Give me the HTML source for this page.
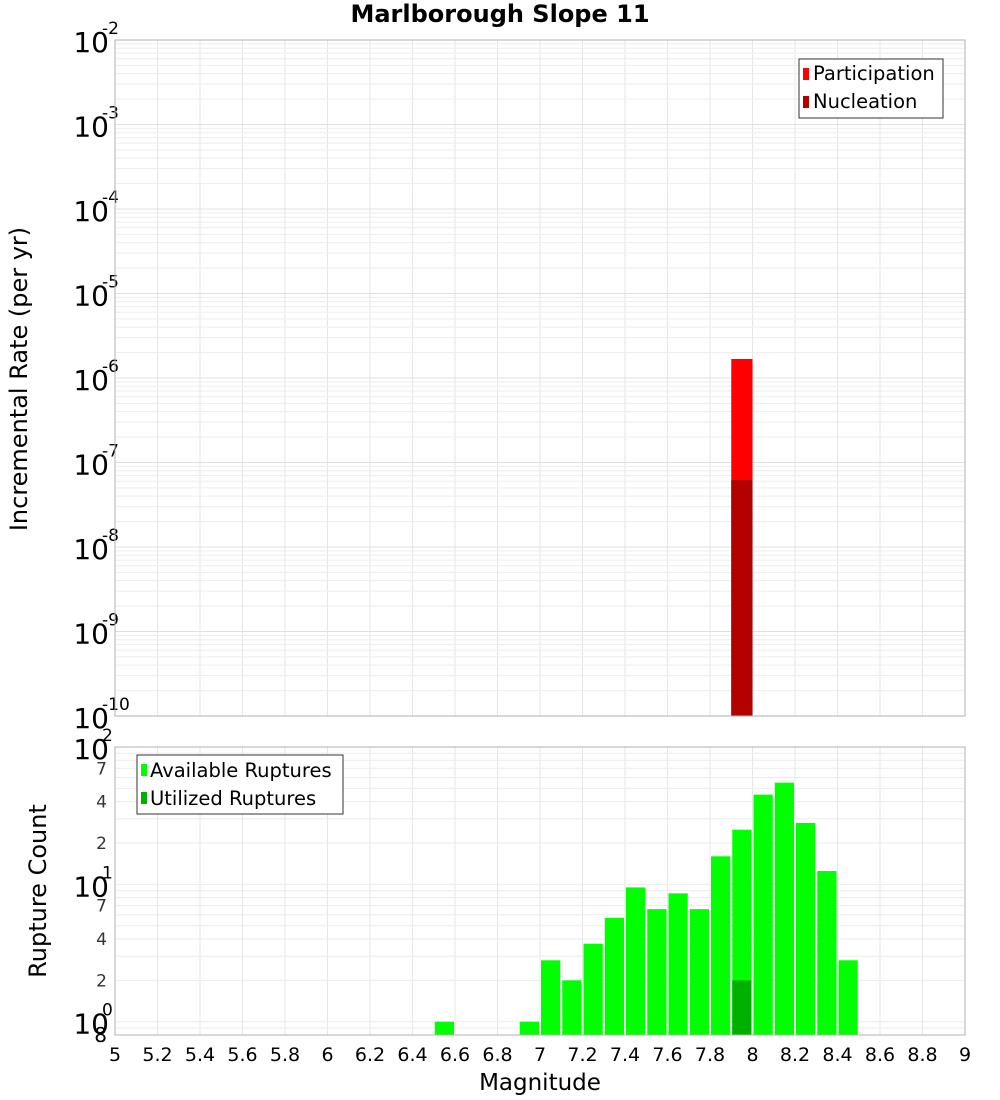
<!DOCTYPE html>
<html><head><meta charset="utf-8"><style>
body{margin:0;background:#fff}
svg{display:block;font-family:"DejaVu Sans","Liberation Sans",sans-serif}
</style></head><body>
<svg id="c" width="1000" height="1100" xmlns="http://www.w3.org/2000/svg">
<text x="500" y="22" text-anchor="middle" font-size="24" font-weight="bold">Marlborough Slope 11</text>
<g id="g"></g>
<text transform="translate(27,379) rotate(-90)" text-anchor="middle" font-size="24">Incremental Rate (per yr)</text>
<text transform="translate(46,891) rotate(-90)" text-anchor="middle" font-size="24">Rupture Count</text>
<text x="540" y="1090" text-anchor="middle" font-size="23">Magnitude</text>
<g>
<rect x="799" y="59" width="144" height="59" fill="#fff" stroke="#333"/>
<rect x="803" y="68" width="6" height="12" fill="#ff0000"/>
<text x="813" y="80" font-size="19.5">Participation</text>
<rect x="803" y="96" width="6" height="12" fill="#b30000"/>
<text x="813" y="108" font-size="19.5">Nucleation</text>
</g>
<g>
<rect x="137" y="755" width="206" height="59" fill="#fff" stroke="#333"/>
<rect x="141" y="764" width="6" height="12" fill="#00ff00"/>
<text x="150" y="777" font-size="19.5">Available Ruptures</text>
<rect x="141" y="792" width="6" height="12" fill="#00b000"/>
<text x="150" y="805" font-size="19.5">Utilized Ruptures</text>
</g>
</svg>
<script>
const binStarts=[6.5,6.9,7.0,7.1,7.2,7.3,7.4,7.5,7.6,7.7,7.8,7.9,8.0,8.1,8.2,8.3,8.4];
const availCounts=[1,1,2.8,2,3.7,5.7,9.5,6.6,8.6,6.6,16,25,45,55,28,12.5,2.8];
const utilBins=[7.9];
const utilCounts=[2];
const rateBins=[7.9];
const participation=[1.68e-6];
const nucleation=[6.2e-8];
const xTicks=[5,5.2,5.4,5.6,5.8,6,6.2,6.4,6.6,6.8,7,7.2,7.4,7.6,7.8,8,8.2,8.4,8.6,8.8,9];
const topDecades=[-2,-3,-4,-5,-6,-7,-8,-9,-10];
const botMinorLabels=[2,4,7,20,40,70];

const NS="http://www.w3.org/2000/svg",g=document.getElementById('g');
function el(t,a,txt){const e=document.createElementNS(NS,t);for(const k in a)e.setAttribute(k,a[k]);if(txt!=null)e.textContent=txt;g.appendChild(e);return e;}
const X0=115,X1=965;
const xs=m=>X0+(m-5)/4*(X1-X0);
const T0=40,T1=716;
const yt=v=>T0+(-2-Math.log10(v))/8*(T1-T0);
const B0=747,B1=1035,bmin=0.8,bmax=100;
const yb=v=>B0+(Math.log10(bmax)-Math.log10(v))/(Math.log10(bmax)-Math.log10(bmin))*(B1-B0);

for(const t of xTicks){const x=xs(t);
 let l=el('line',{x1:x,x2:x,y1:T0,y2:T1,stroke:'#e6e6e6'});
 l=el('line',{x1:x,x2:x,y1:B0,y2:B1,stroke:'#e6e6e6'});
 const tx=el('text',{x:x,y:1061,'text-anchor':'middle','font-size':19},String(t));
 
}
for(let d=-10;d<-2;d++)for(let k=1;k<10;k++){const y=yt(k*Math.pow(10,d));
 const l=el('line',{x1:X0,x2:X1,y1:y,y2:y,stroke:k==1?'#e0e0e0':'#ededed'});}
for(let d=-1;d<2;d++)for(let k=1;k<10;k++){const v=k*Math.pow(10,d);if(v<bmin)continue;const y=yb(v);
 const l=el('line',{x1:X0,x2:X1,y1:y,y2:y,stroke:'#ebebeb'});}
for(const d of topDecades){const y=yt(Math.pow(10,d));
 const t=el('text',{x:109,y:y+12,'text-anchor':'end','font-size':28},'10');
 const s=el('text',{x:102,y:y-6,'font-size':17},String(d));}
for(const d of [0,1,2]){const y=yb(Math.pow(10,d));
 const t=el('text',{x:109,y:y+12,'text-anchor':'end','font-size':28},'10');
 const s=el('text',{x:102,y:y-6,'font-size':17},String(d));}
for(const v of botMinorLabels){const y=yb(v);
 const t=el('text',{x:107,y:y+6,'text-anchor':'end','font-size':17,fill:'#333'},String(v<10?v:v/10));}
{const t=el('text',{x:107,y:1042,'text-anchor':'end','font-size':20},'8');}
rateBins.forEach((b,i)=>{
 let r=el('rect',{x:xs(b),y:yt(participation[i]),width:xs(b+0.1)-xs(b),height:T1-yt(participation[i]),fill:'#ff0000'});
 
 r=el('rect',{x:xs(b),y:yt(nucleation[i]),width:xs(b+0.1)-xs(b),height:T1-yt(nucleation[i]),fill:'#b30000'});
 
});
binStarts.forEach((b,i)=>{const y=yb(availCounts[i]);
 const r=el('rect',{x:xs(b)+1,y:y,width:xs(b+0.1)-xs(b)-2,height:B1-y,fill:'#00ff00'});
 });
utilBins.forEach((b,i)=>{const y=yb(utilCounts[i]);
 const r=el('rect',{x:xs(b)+1,y:y,width:xs(b+0.1)-xs(b)-2,height:B1-y,fill:'#00b000'});
 });
let f=el('rect',{x:X0,y:T0,width:X1-X0,height:T1-T0,fill:'none',stroke:'#b0b0b0'});
f=el('rect',{x:X0,y:B0,width:X1-X0,height:B1-B0,fill:'none',stroke:'#b0b0b0'});
</script>
</body></html>
